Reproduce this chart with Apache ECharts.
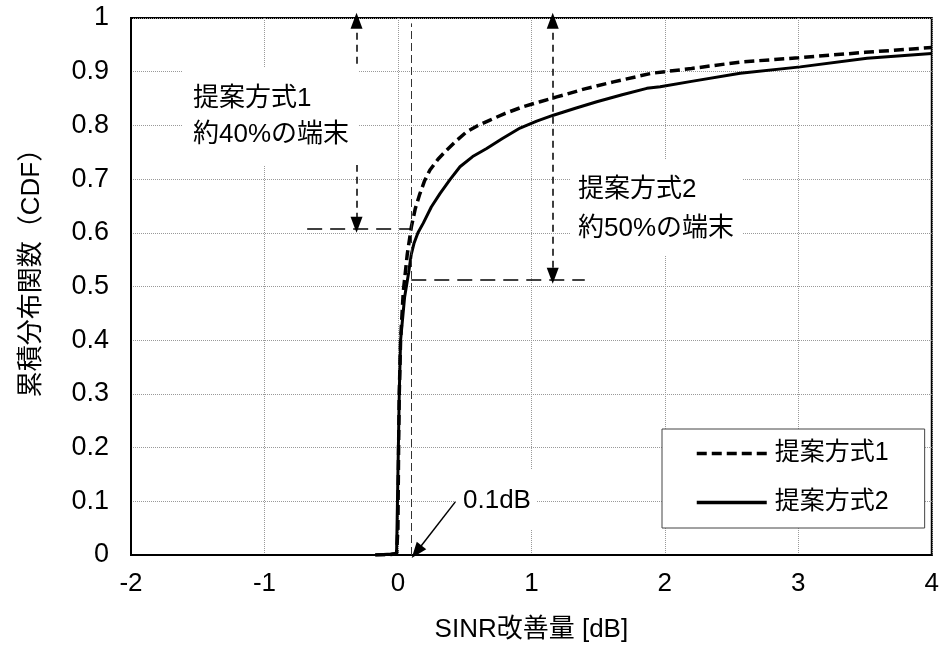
<!DOCTYPE html>
<html><head><meta charset="utf-8">
<script src="https://cdn.jsdelivr.net/npm/echarts@6/dist/echarts.min.js"></script>
<style>html,body{margin:0;padding:0;background:#fff}#c{width:942px;height:650px}</style>
</head><body><div id="c"></div>
<script>
const seriesNames = ['提案方式1', '提案方式2'];
// 提案方式1 (dashed)
const s1X = [-0.17, -0.05, -0.01, 0.0, 0.005, 0.01, 0.02, 0.04, 0.07, 0.1, 0.13, 0.165, 0.2, 0.24, 0.3, 0.365, 0.44, 0.515, 0.6, 0.69, 0.8, 0.94, 1.065, 1.19, 1.4, 1.615, 1.9, 2.2, 2.565, 3.0, 3.5, 4.0];
const s1Y = [0, 0.001, 0.003, 0.05, 0.2, 0.3, 0.4, 0.49, 0.56, 0.61, 0.645, 0.673, 0.697, 0.717, 0.737, 0.754, 0.772, 0.788, 0.8, 0.81, 0.822, 0.835, 0.844, 0.853, 0.868, 0.881, 0.897, 0.906, 0.918, 0.926, 0.936, 0.945];
// 提案方式2 (solid)
const s2X = [-0.17, -0.05, -0.01, 0.0, 0.0, 0.01, 0.02, 0.05, 0.08, 0.1, 0.12, 0.15, 0.19, 0.25, 0.315, 0.39, 0.465, 0.56, 0.665, 0.78, 0.915, 1.04, 1.165, 1.33, 1.49, 1.68, 1.865, 1.965, 2.2, 2.565, 3.015, 3.515, 4.0];
const s2Y = [0, 0.002, 0.003, 0.005, 0.15, 0.3, 0.4, 0.48, 0.525, 0.56, 0.58, 0.6, 0.618, 0.648, 0.673, 0.699, 0.723, 0.742, 0.757, 0.775, 0.795, 0.808, 0.819, 0.832, 0.844, 0.857, 0.869, 0.872, 0.882, 0.897, 0.909, 0.925, 0.934];
const xTickLabels = ['-2', '-1', '0', '1', '2', '3', '4'];
const yTickLabels = ['0', '0.1', '0.2', '0.3', '0.4', '0.5', '0.6', '0.7', '0.8', '0.9', '1'];
const xAxisTitle = 'SINR改善量 [dB]';
const yAxisTitle = '累積分布関数（CDF）';
const noteTexts = ['提案方式1\n約40%の端末', '提案方式2\n約50%の端末', '0.1dB'];
// annotation geometry in data units
const thresholdX = 0.1;
const levelA = 0.607, levelB = 0.512;
const arrowAX = -0.31, arrowBX = 1.16;
const hLineAStart = -0.68, hLineBEnd = 1.4;
const pointerFrom = [0.43, 0.099], pointerTo = [0.14, 0.006];

const FONT = "'Liberation Sans', Arial, 'Noto Sans CJK JP', sans-serif";
const chart = echarts.init(document.getElementById('c'), null, {renderer: 'canvas'});

const arrowStyle = {color: '#000', width: 1.5, type: [7, 5]};
const hStyle = {color: '#000', width: 1.6, type: [15, 8]};

chart.setOption({
  animation: false,
  backgroundColor: '#fff',
  grid: {left: 131, right: 10, top: 18, bottom: 95, show: true, borderColor: '#000', borderWidth: 2, backgroundColor: 'transparent'},
  xAxis: {
    type: 'value', min: -2, max: 4, interval: 1,
    name: xAxisTitle, nameLocation: 'middle', nameGap: 62,
    nameTextStyle: {fontSize: 26, fontFamily: FONT, color: '#000'},
    axisLine: {onZero: false, lineStyle: {color: '#000', width: 2}},
    axisTick: {show: false},
    axisLabel: {fontSize: 26, fontFamily: FONT, color: '#000', margin: 16,
      formatter: v => xTickLabels[Math.round(v + 2)]},
    splitLine: {show: true, lineStyle: {color: '#999', type: 'dotted', width: 1}}
  },
  yAxis: {
    type: 'value', min: 0, max: 1, interval: 0.1,
    name: yAxisTitle, nameLocation: 'middle', nameGap: 86,
    nameTextStyle: {fontSize: 26, fontFamily: FONT, color: '#000', padding: [0, 0, 0, 40]},
    axisLine: {onZero: false, lineStyle: {color: '#000', width: 2}},
    axisTick: {show: false},
    axisLabel: {fontSize: 27, fontFamily: FONT, color: '#000', margin: 22,
      formatter: v => yTickLabels[Math.round(v * 10)]},
    splitLine: {show: true, lineStyle: {color: '#999', type: 'dotted', width: 1}}
  },
  legend: {
    data: seriesNames, orient: 'vertical', left: 662, top: 429,
    borderColor: '#444', borderWidth: 1, backgroundColor: '#fff',
    padding: [12, 36, 13, 33], itemWidth: 70, itemHeight: 24, itemGap: 24,
    itemStyle: {opacity: 0},
    lineStyle: {width: 3.5},
    textStyle: {fontSize: 25, fontFamily: FONT, color: '#000', padding: [0, 0, 0, 3]}
  },
  series: [
    {
      name: seriesNames[0], type: 'line', symbol: 'none', showSymbol: false,
      data: s1X.map((x, i) => [x, s1Y[i]]),
      lineStyle: {color: '#000', width: 3.5, type: [10, 5]}, itemStyle: {color: '#000'}, z: 3
    },
    {
      name: seriesNames[1], type: 'line', symbol: 'none', showSymbol: false,
      data: s2X.map((x, i) => [x, s2Y[i]]),
      lineStyle: {color: '#000', width: 3}, itemStyle: {color: '#000'}, z: 4,
      markLine: {
        silent: true, symbol: ['none', 'none'], symbolSize: [12, 16], label: {show: false},
        animation: false,
        data: [
          [{coord: [thresholdX, 0], lineStyle: {color: '#333', width: 1, type: [8, 4]}}, {coord: [thresholdX, 0.99]}],
          [{coord: [arrowAX, 0.995], symbol: 'triangle', lineStyle: arrowStyle}, {coord: [arrowAX, levelA + 0.008], symbol: 'triangle'}],
          [{coord: [arrowBX, 0.995], symbol: 'triangle', lineStyle: arrowStyle}, {coord: [arrowBX, levelB + 0.008], symbol: 'triangle'}],
          [{coord: [hLineAStart, levelA], lineStyle: hStyle}, {coord: [thresholdX, levelA]}],
          [{coord: [thresholdX, levelB], lineStyle: hStyle}, {coord: [hLineBEnd, levelB]}],
          [{coord: pointerFrom, lineStyle: {color: '#000', width: 1.5, type: 'solid'}}, {coord: pointerTo, symbol: 'triangle'}]
        ]
      }
    }
  ],
  graphic: [
    {type: 'text', left: 183, top: 67, z: 10, style: {text: noteTexts[0], fontSize: 26, fontFamily: FONT, fill: '#000', backgroundColor: '#fff', padding: [14, 10, 12, 10], lineHeight: 36}},
    {type: 'text', left: 570, top: 160, z: 10, style: {text: noteTexts[1], fontSize: 26, fontFamily: FONT, fill: '#000', backgroundColor: '#fff', padding: [10, 8, 8, 8], lineHeight: 39}},
    {type: 'text', left: 457, top: 470, z: 10, style: {text: noteTexts[2], fontSize: 26, fontFamily: FONT, fill: '#000', backgroundColor: '#fff', padding: [16, 6, 14, 6], lineHeight: 30}}
  ]
});
</script></body></html>
